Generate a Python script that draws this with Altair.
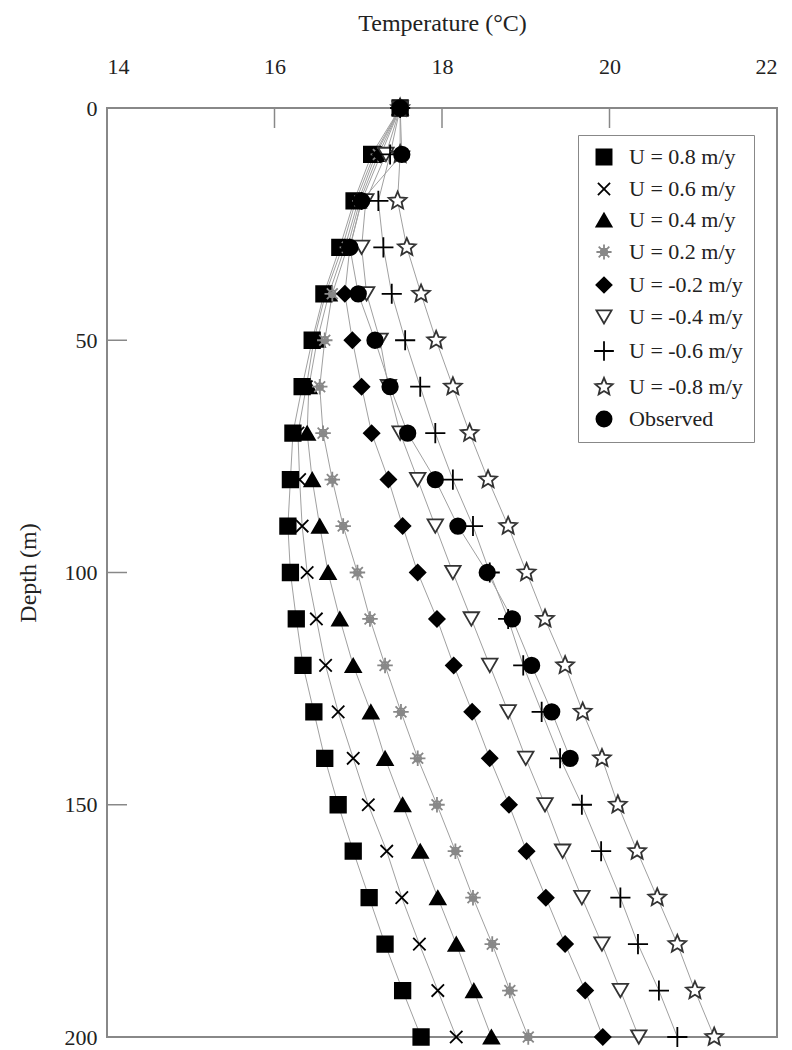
import altair as alt
import pandas as pd

# Depths (m) at which each profile is sampled
depths = [0, 10, 20, 30, 40, 50, 60, 70, 80, 90, 100,
          110, 120, 130, 140, 150, 160, 170, 180, 190, 200]

# Modelled temperature profiles (deg C) for each vertical groundwater velocity
t_u08 = [17.50, 17.16, 16.95, 16.78, 16.59, 16.45, 16.33, 16.22, 16.19, 16.16, 16.19,
         16.26, 16.34, 16.47, 16.60, 16.76, 16.94, 17.13, 17.32, 17.53, 17.75]
t_u06 = [17.50, 17.19, 16.97, 16.81, 16.61, 16.47, 16.38, 16.28, 16.30, 16.33, 16.39,
         16.50, 16.61, 16.76, 16.94, 17.12, 17.34, 17.52, 17.73, 17.95, 18.17]
t_u04 = [17.50, 17.21, 17.00, 16.84, 16.65, 16.51, 16.41, 16.39, 16.45, 16.54, 16.64,
         16.78, 16.94, 17.15, 17.32, 17.53, 17.74, 17.95, 18.17, 18.38, 18.59]
t_u02 = [17.50, 17.24, 17.02, 16.87, 16.69, 16.60, 16.54, 16.58, 16.69, 16.82, 16.99,
         17.14, 17.32, 17.51, 17.71, 17.94, 18.16, 18.37, 18.60, 18.81, 19.03]
t_um02 = [17.50, 17.27, 17.04, 16.90, 16.84, 16.93, 17.04, 17.16, 17.36, 17.53, 17.71,
          17.94, 18.14, 18.36, 18.57, 18.80, 19.01, 19.24, 19.47, 19.71, 19.92]
t_um04 = [17.50, 17.33, 17.09, 17.04, 17.10, 17.26, 17.36, 17.50, 17.71, 17.92, 18.13,
          18.35, 18.57, 18.79, 19.00, 19.23, 19.44, 19.67, 19.91, 20.13, 20.35]
t_um06 = [17.50, 17.38, 17.24, 17.30, 17.40, 17.56, 17.74, 17.92, 18.13, 18.37, 18.57,
          18.79, 18.97, 19.19, 19.41, 19.67, 19.90, 20.13, 20.34, 20.59, 20.81]
t_um08 = [17.50, 17.50, 17.47, 17.58, 17.75, 17.93, 18.13, 18.33, 18.55, 18.79, 19.01,
          19.23, 19.47, 19.68, 19.91, 20.10, 20.33, 20.57, 20.81, 21.02, 21.25]

# Measured profile (only down to 140 m)
obs_depths = [0, 10, 20, 30, 40, 50, 60, 70, 80, 90, 100, 110, 120, 130, 140]
t_obs = [17.50, 17.52, 17.04, 16.90, 17.00, 17.20, 17.38, 17.59, 17.92, 18.19,
         18.54, 18.84, 19.07, 19.31, 19.53]

series_names = ["U = 0.8 m/y", "U = 0.6 m/y", "U = 0.4 m/y", "U = 0.2 m/y",
                "U = -0.2 m/y", "U = -0.4 m/y", "U = -0.6 m/y", "U = -0.8 m/y",
                "Observed"]

# Axis tick positions
x_ticks = [14, 16, 18, 20, 22]
y_ticks = [0, 50, 100, 150, 200]

model = [t_u08, t_u06, t_u04, t_u02, t_um02, t_um04, t_um06, t_um08]
rows = []
for name, temps in zip(series_names[:-1], model):
    for d, t in zip(depths, temps):
        rows.append({"series": name, "depth": d, "temp": t})
for d, t in zip(obs_depths, t_obs):
    rows.append({"series": "Observed", "depth": d, "temp": t})
df = pd.DataFrame(rows)

# Marker symbols (custom paths are in unit coordinates)
STAR = ("M0,-1.2L0.317,-0.437L1.141,-0.371L0.513,0.167L0.705,0.971"
        "L0,0.54L-0.705,0.971L-0.513,0.167L-1.141,-0.371L-0.317,-0.437Z")
shapes = ["square",
          "M-0.8,-0.8L0.8,0.8M-0.8,0.8L0.8,-0.8",
          "triangle-up",
          "M-1,0L1,0M0,-1L0,1M-0.7,-0.7L0.7,0.7M-0.7,0.7L0.7,-0.7M-0.45,0A0.45,0.45,0,1,0,0.45,0A0.45,0.45,0,1,0,-0.45,0",
          "diamond",
          "triangle-down",
          "M-1.3,0L1.3,0M0,-1.3L0,1.3",
          STAR,
          "circle"]
fills = ["black", "transparent", "black", "transparent", "black",
         "white", "transparent", "white", "black"]
strokes = ["black", "black", "black", "#888888", "black",
           "#333333", "black", "#333333", "black"]

FONT = "Liberation Serif"

x_scale = alt.Scale(domain=[14, 22], nice=False, zero=False)
y_scale = alt.Scale(domain=[0, 200], reverse=True, nice=False, zero=False)

lines = alt.Chart(df).mark_line(color="#a0a0a0", strokeWidth=1).encode(
    x=alt.X("temp:Q", scale=x_scale,
            axis=alt.Axis(orient="top", values=x_ticks, format="d",
                          title="Temperature (°C)",
                          labelPadding=30, titlePadding=20)),
    y=alt.Y("depth:Q", scale=y_scale,
            axis=alt.Axis(values=y_ticks, format="d", title="Depth (m)",
                          labelPadding=10, titlePadding=24)),
    detail="series:N",
    order="depth:Q",
)

points = alt.Chart(df).mark_point(size=240, strokeWidth=1.8, opacity=1).encode(
    x=alt.X("temp:Q", scale=x_scale),
    y=alt.Y("depth:Q", scale=y_scale),
    shape=alt.Shape("series:N", scale=alt.Scale(domain=series_names, range=shapes),
                    sort=series_names,
                    legend=alt.Legend(title=None, orient="none", legendX=471, legendY=27,
                                      padding=11, strokeColor="#888888", fillColor="white",
                                      labelFont=FONT, labelFontSize=22, labelColor="#222222",
                                      symbolSize=230, symbolStrokeWidth=1.8,
                                      rowPadding=9, labelOffset=14, symbolOffset=4)),
    fill=alt.Fill("series:N", scale=alt.Scale(domain=series_names, range=fills),
                  sort=series_names, legend=alt.Legend(title=None)),
    stroke=alt.Stroke("series:N", scale=alt.Scale(domain=series_names, range=strokes),
                      sort=series_names, legend=alt.Legend(title=None)),
)

x_tick_df = pd.DataFrame({"t": x_ticks[1:-1]})
y_tick_df = pd.DataFrame({"d": y_ticks[1:-1]})

x_inner_ticks = alt.Chart(x_tick_df).mark_rule(color="#888888", strokeWidth=1.5).encode(
    x=alt.X("t:Q", scale=x_scale), y=alt.value(0), y2=alt.value(20))
y_inner_ticks = alt.Chart(y_tick_df).mark_rule(color="#888888", strokeWidth=1.5).encode(
    y=alt.Y("d:Q", scale=y_scale), x=alt.value(0), x2=alt.value(20))

chart = alt.layer(lines, x_inner_ticks, y_inner_ticks, points).properties(
    width=670, height=929,
    autosize=alt.AutoSizeParams(type="none"),
    padding={"left": 107, "top": 108, "right": 15, "bottom": 13},
).configure_view(
    stroke="#888888", strokeWidth=2
).configure_axis(
    labelFont=FONT, titleFont=FONT, labelFontSize=22, titleFontSize=24,
    labelColor="#222222", titleColor="#222222", titleFontWeight="normal",
    grid=False, ticks=False, domain=False
)

chart.save("out.html", embed_options={"renderer": "svg", "actions": False})
